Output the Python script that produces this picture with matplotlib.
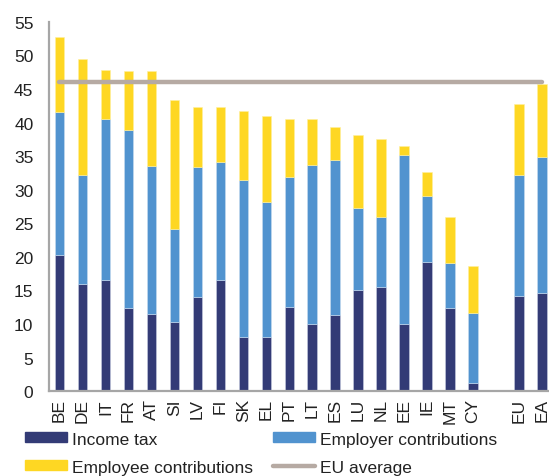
import matplotlib
matplotlib.use("Agg")
import matplotlib.pyplot as plt
import numpy as np
from matplotlib.patches import Patch
from matplotlib.lines import Line2D

plt.rcParams['font.family'] = ['Liberation Sans', 'DejaVu Sans']

countries = ["BE", "DE", "IT", "FR", "AT", "SI", "LV", "FI", "SK", "EL",
             "PT", "LT", "ES", "LU", "NL", "EE", "IE", "MT", "CY", "EU", "EA"]
# cumulative tops
income_top = [20.3, 15.9, 16.5, 12.4, 11.5, 10.3, 14.0, 16.5, 8.0, 8.0,
              12.5, 10.0, 11.3, 15.1, 15.5, 10.0, 19.2, 12.4, 1.2, 14.2, 14.6]
employer_top = [41.6, 32.2, 40.6, 38.9, 33.5, 24.1, 33.4, 34.2, 31.5, 28.2,
                31.9, 33.7, 34.4, 27.3, 26.0, 35.2, 29.1, 19.1, 11.7, 32.2, 34.9]
total_top = [52.7, 49.5, 47.8, 47.7, 47.7, 43.3, 42.3, 42.3, 41.8, 41.0,
             40.6, 40.6, 39.4, 38.1, 37.6, 36.5, 32.7, 25.9, 18.6, 42.8, 45.8]
eu_average = 46.0

income = np.array(income_top)
employer = np.array(employer_top) - income
employee = np.array(total_top) - np.array(employer_top)

pos = np.array(list(range(19)) + [20, 21])

c_navy = "#333b76"
c_blue = "#5193cf"
c_yellow = "#fed723"
c_line = "#b6aaa3"

fs = 12.5

fig = plt.figure(figsize=(5.49, 4.77), dpi=100)
ax = fig.add_axes([0.0887, 0.178, 0.911, 0.774])

w = 0.41
ax.bar(pos, income, w, color=c_navy, edgecolor="#c8cde0", linewidth=0.4)
ax.bar(pos, employer, w, bottom=income, color=c_blue, edgecolor="#c8dcf0", linewidth=0.4)
ax.bar(pos, employee, w, bottom=np.array(employer_top), color=c_yellow, edgecolor="#fff0a0", linewidth=0.4)
ax.plot([pos[0], pos[-1]], [eu_average, eu_average], color=c_line, lw=3.2,
        solid_capstyle="round", zorder=3)

ax.set_xlim(-0.47, 21.3)
ax.set_ylim(0, 55)
ax.set_yticks(range(0, 56, 5))
ax.set_xticks(pos)
ax.set_xticklabels(countries, rotation=90, fontsize=fs, color="#222222")
ax.tick_params(axis='y', labelsize=fs, length=0, pad=11, labelcolor="#222222")
ax.tick_params(axis='x', length=0, pad=5)
for s in ["top", "right"]:
    ax.spines[s].set_visible(False)
for s in ["left", "bottom"]:
    ax.spines[s].set_color("#a6a6a6")
    ax.spines[s].set_linewidth(1.6)

handles = [Patch(color=c_navy, label="Income tax"),
           Patch(color=c_yellow, label="Employee contributions"),
           Patch(color=c_blue, label="Employer contributions"),
           Line2D([0], [0], color=c_line, lw=3.2, solid_capstyle="round", label="EU average")]
leg = fig.legend(handles=handles, ncol=2, loc="lower left", bbox_to_anchor=(0.045, 0.003),
                 frameon=False, fontsize=fs, handlelength=2.45, handleheight=0.5,
                 handletextpad=0.3, columnspacing=1.1, labelspacing=0.75, borderpad=0,
                 borderaxespad=0)
for t in leg.get_texts():
    t.set_color("#222222")

fig.savefig("out.png", dpi=100)
